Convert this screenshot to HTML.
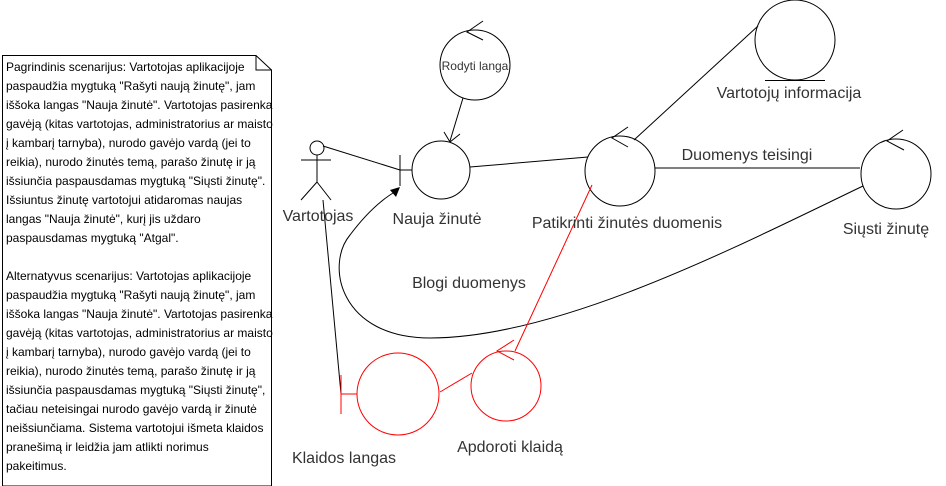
<!DOCTYPE html>
<html><head><meta charset="utf-8"><style>
body{margin:0;background:#fff;width:946px;height:486px;overflow:hidden;font-family:"Liberation Sans",Arial,sans-serif}
svg{position:absolute;left:0;top:0}
.note{position:absolute;left:6px;top:58px;white-space:nowrap;font-size:12px;line-height:19px;color:#000}
</style></head><body>
<svg width="946" height="486" viewBox="0 0 946 486" font-family="Liberation Sans, Arial, sans-serif">
<g fill="none" stroke="#000" stroke-width="1">
<path d="M2.5,55.5 H256 L271.5,70 V486 H2.5 Z"/>
<path d="M256,55.5 V70 H271.5"/>
<circle cx="317" cy="148" r="7" fill="#fff"/>
<path d="M317,155 V182 M301,160 H331 M317,182 L301,200 M317,182 L331,200"/>
<circle cx="441" cy="170" r="29"/>
<path d="M400,155 V186 M400,170 H412"/>
<path d="M323,146 L400,170"/>
<circle cx="475" cy="65" r="35"/>
<path d="M483,21 L467,32 L483,40"/>
<path d="M463,98 L450,141 M444,132 L450,142 L460,134"/>
<circle cx="620" cy="171" r="35"/>
<path d="M628,127 L612,138 L628,147"/>
<path d="M470,167 L588,157"/>
<circle cx="795" cy="40" r="40"/>
<path d="M765,80.5 H825"/>
<path d="M758,26 L634,140"/>
<circle cx="896" cy="174" r="35"/>
<path d="M903,130 L887,141 L904,150"/>
<path d="M655,168 H860"/>
<path d="M863,186 C740,245 560,338 430,338 C340,338 325,265 350,235 C365,215 380,200 398,190"/>
<path d="M323,200 L341,394"/>
</g>
<path d="M400,187 L390,190 L396,197 Z" fill="#000"/>
<g fill="none" stroke="#f00" stroke-width="1">
<path d="M341,375 V414 M341,394 H357"/>
<circle cx="398" cy="394" r="41"/>
<circle cx="506" cy="386" r="35"/>
<path d="M514,340 L497,351 L514,360"/>
<path d="M592,185 L515,351"/>
<path d="M440,392 L472,373"/>
</g>
<g font-size="16" fill="#333" text-anchor="middle">
<text x="318" y="221">Vartotojas</text>
<text x="437" y="224">Nauja žinutė</text>
<text x="627" y="228">Patikrinti žinutės duomenis</text>
<text x="789" y="98">Vartotojų informacija</text>
<text x="886" y="234">Siųsti žinutę</text>
<text x="747" y="160">Duomenys teisingi</text>
<text x="469" y="288">Blogi duomenys</text>
<text x="344" y="463">Klaidos langas</text>
<text x="510" y="452">Apdoroti klaidą</text>
<text x="475" y="70" font-size="12">Rodyti langa</text>
</g>
</svg>
<div class="note">Pagrindinis scenarijus: Vartotojas aplikacijoje<br>paspaudžia mygtuką "Rašyti naują žinutę", jam<br>iššoka langas "Nauja žinutė". Vartotojas pasirenka<br>gavėją (kitas vartotojas, administratorius ar maisto<br>į kambarį tarnyba), nurodo gavėjo vardą (jei to<br>reikia), nurodo žinutės temą, parašo žinutę ir ją<br>išsiunčia paspausdamas mygtuką "Siųsti žinutę".<br>Išsiuntus žinutę vartotojui atidaromas naujas<br>langas "Nauja žinutė", kurį jis uždaro<br>paspausdamas mygtuką "Atgal".<br><br>Alternatyvus scenarijus: Vartotojas aplikacijoje<br>paspaudžia mygtuką "Rašyti naują žinutę", jam<br>iššoka langas "Nauja žinutė". Vartotojas pasirenka<br>gavėją (kitas vartotojas, administratorius ar maisto<br>į kambarį tarnyba), nurodo gavėjo vardą (jei to<br>reikia), nurodo žinutės temą, parašo žinutę ir ją<br>išsiunčia paspausdamas mygtuką "Siųsti žinutę",<br>tačiau neteisingai nurodo gavėjo vardą ir žinutė<br>neišsiunčiama. Sistema vartotojui išmeta klaidos<br>pranešimą ir leidžia jam atlikti norimus<br>pakeitimus.</div>
</body></html>
